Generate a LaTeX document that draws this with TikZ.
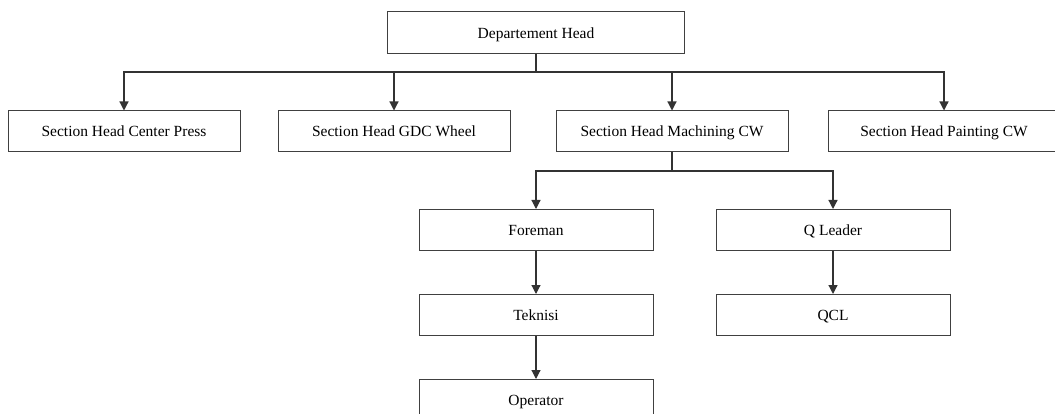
\documentclass[tikz,border=0pt]{standalone}
\usepackage{fontspec}
\setmainfont{Liberation Serif}
\usetikzlibrary{arrows.meta}

\begin{document}
\begin{tikzpicture}[x=1pt, y=-1pt,
					->,
					>={Triangle[length=9pt, width=9pt]},
					line width=1.2pt,
					black!80,
					every node/.style={font=\fontsize{15.5}{18}\selectfont, text=black},
					box/.style={draw=black!75, rectangle, minimum width=232pt, minimum height=41pt, inner sep=0pt, text height=10.5pt, text depth=0pt, line width=1pt}]

	\useasboundingbox (0,0) rectangle (1055,414);

	\node[box, minimum width=297pt, minimum height=42pt] (head) at (536,33) {Departement Head};
	\node[box] (press) at (124,131.5) {Section Head Center Press};
	\node[box] (gdc) at (394,131.5) {Section Head GDC Wheel};
	\node[box] (mach) at (672,131.5) {Section Head Machining CW};
	\node[box] (paint) at (944,131.5) {Section Head Painting CW};
	\node[box, minimum width=234pt] (foreman) at (536,230) {Foreman};
	\node[box, minimum width=234pt] (qlead) at (833,230) {Q Leader};
	\node[box, minimum width=234pt] (teknisi) at (536,315) {Teknisi};
	\node[box, minimum width=234pt] (qcl) at (833,315) {QCL};
	\node[box, minimum width=234pt] (operator) at (536,400) {Operator};

	\coordinate (bus) at (536,72);
	\coordinate (sub) at (672,171);

	\draw[-, line width=2.2pt] (head) -- (bus);
	\draw	(bus) -| (press);
	\draw	(bus) -| (gdc);
	\draw	(bus) -| (mach);
	\draw	(bus) -| (paint);

	\draw[-] (mach) -- (sub);
	\draw	(sub) -| (foreman);
	\draw	(sub) -| (qlead);
	\draw	(foreman) -- (teknisi);
	\draw	(teknisi) -- (operator);
	\draw	(qlead) -- (qcl);
\end{tikzpicture}
\end{document}
